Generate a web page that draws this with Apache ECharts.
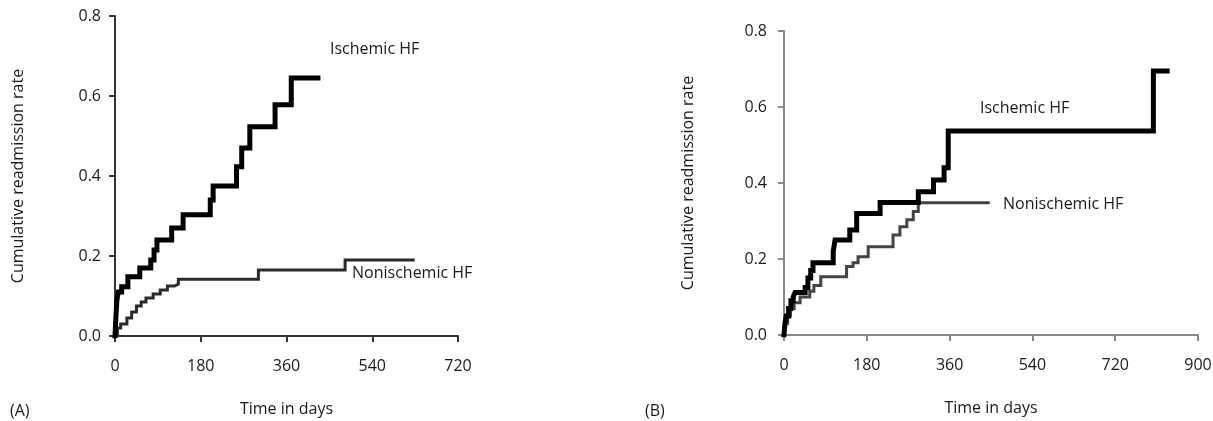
<!DOCTYPE html>
<html>
<head>
<meta charset="utf-8">
<script src="https://cdn.jsdelivr.net/npm/echarts@6/dist/echarts.min.js"></script>
<style>
  html, body { margin: 0; padding: 0; background: #fff; }
  #main { width: 1213px; height: 421px; }
</style>
</head>
<body>
<div id="main"></div>
<script>
// ---- data: [day, cumulative rate] step points ----
// panel A
const ischemicA = [
  [0, 0], [2, 0.05], [4, 0.09], [7, 0.11], [14, 0.123], [27, 0.148], [52, 0.17],
  [75, 0.19], [82, 0.215], [88, 0.24], [119, 0.27], [143, 0.303], [200, 0.34],
  [206, 0.375], [255, 0.423], [266, 0.47], [283, 0.523], [336, 0.578], [370, 0.645], [426, 0.645]
];
const nonischemicA = [
  [0, 0], [5, 0.02], [12, 0.03], [25, 0.045], [35, 0.06], [45, 0.075], [55, 0.085],
  [65, 0.095], [80, 0.105], [95, 0.115], [110, 0.125], [125, 0.13], [133, 0.142],
  [301, 0.165], [483, 0.19], [626, 0.19]
];
// panel B
const ischemicB = [
  [0, 0], [2, 0.03], [5, 0.05], [10, 0.07], [15, 0.09], [20, 0.1], [24, 0.112],
  [46, 0.125], [52, 0.15], [58, 0.17], [63, 0.19], [107, 0.22], [111, 0.25],
  [143, 0.276], [158, 0.32], [209, 0.349], [292, 0.377], [325, 0.408], [348, 0.44],
  [357, 0.537], [803, 0.695], [833, 0.695]
];
const nonischemicB = [
  [0, 0], [3, 0.03], [8, 0.05], [14, 0.07], [22, 0.085], [35, 0.1], [56, 0.115],
  [65, 0.13], [80, 0.153], [136, 0.18], [150, 0.19], [161, 0.206], [183, 0.232],
  [237, 0.263], [252, 0.285], [267, 0.303], [281, 0.325], [292, 0.348], [444, 0.348]
];
const xTicksA = [0, 180, 360, 540, 720];
const xTicksB = [0, 180, 360, 540, 720, 900];
const yTicks = [0, 0.2, 0.4, 0.6, 0.8];

const FONT = 'Open Sans';
const txt = '#1a1a1a';

function xAxisOf(idx, ticks, axisColor) {
  return {
    gridIndex: idx, type: 'value', min: ticks[0], max: ticks[ticks.length - 1], interval: 180,
    name: 'Time in days', nameLocation: 'middle', nameGap: 65,
    nameTextStyle: { fontFamily: FONT, fontSize: 16, color: txt },
    axisLine: { show: true, lineStyle: { color: axisColor, width: 2 } },
    axisTick: { show: true, length: 6, lineStyle: { color: axisColor, width: 2 } },
    axisLabel: { fontFamily: FONT, fontSize: 16, color: txt, margin: 22 },
    splitLine: { show: false }
  };
}
function yAxisOf(idx, axisColor, margin, gap) {
  return {
    gridIndex: idx, type: 'value', min: yTicks[0], max: yTicks[yTicks.length - 1], interval: 0.2,
    name: 'Cumulative readmission rate', nameLocation: 'middle', nameGap: gap,
    nameRotate: 90,
    nameTextStyle: { fontFamily: FONT, fontSize: 16, color: txt },
    axisLine: { show: true, lineStyle: { color: axisColor, width: 2 } },
    axisTick: { show: true, length: 6, lineStyle: { color: axisColor, width: 2 } },
    axisLabel: { fontFamily: FONT, fontSize: 16, color: txt, margin: margin,
      formatter: v => v.toFixed(1) },
    splitLine: { show: false }
  };
}
function stepLine(idx, data, width, color) {
  return {
    type: 'line', xAxisIndex: idx, yAxisIndex: idx, data: data, step: 'end',
    symbol: 'none', lineStyle: { color: color, width: width, cap: 'square', join: 'miter' },
    silent: true, animation: false
  };
}

const chart = echarts.init(document.getElementById('main'));
chart.setOption({
  backgroundColor: '#fff',
  animation: false,
  grid: [
    { left: 115, top: 16, width: 343, height: 320, outerBoundsMode: 'none', containLabel: false },
    { left: 784, top: 31, width: 414, height: 304, outerBoundsMode: 'none', containLabel: false }
  ],
  xAxis: [xAxisOf(0, xTicksA, '#333'), xAxisOf(1, xTicksB, '#888')],
  yAxis: [yAxisOf(0, '#333', 14, 89), yAxisOf(1, '#888', 17, 88)],
  series: [
    stepLine(0, nonischemicA, 3, '#2a2a2a'),
    stepLine(0, ischemicA, 5, '#000'),
    stepLine(1, nonischemicB, 3, '#444'),
    stepLine(1, ischemicB, 5, '#000')
  ],
  graphic: [
    { type: 'text', left: 330, top: 41, style: { text: 'Ischemic HF', font: '16px "Open Sans"', fill: txt } },
    { type: 'text', left: 352, top: 265, style: { text: 'Nonischemic HF', font: '16px "Open Sans"', fill: txt } },
    { type: 'text', left: 980, top: 100, style: { text: 'Ischemic HF', font: '16px "Open Sans"', fill: txt } },
    { type: 'text', left: 1003, top: 196, style: { text: 'Nonischemic HF', font: '16px "Open Sans"', fill: txt } },
    { type: 'text', left: 10, top: 403, style: { text: '(A)', font: '16px "Open Sans"', fill: txt } },
    { type: 'text', left: 645, top: 403, style: { text: '(B)', font: '16px "Open Sans"', fill: txt } }
  ]
});
</script>
</body>
</html>
